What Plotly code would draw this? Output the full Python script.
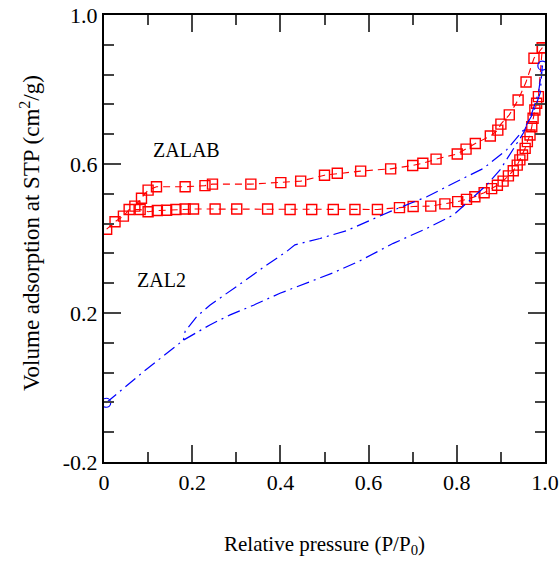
import plotly.graph_objects as go

# ZALAB (red squares)
zalab_ads_x = [0.006, 0.025, 0.044, 0.057, 0.082, 0.100, 0.121, 0.142, 0.163, 0.184, 0.203, 0.252, 0.301,
               0.371, 0.422, 0.471, 0.520, 0.569, 0.620, 0.670, 0.701, 0.741, 0.773, 0.802, 0.822, 0.841,
               0.862, 0.879, 0.892, 0.905, 0.917, 0.928, 0.937, 0.943, 0.949, 0.955, 0.960, 0.966, 0.970,
               0.973, 0.977, 0.981, 0.985, 0.994]
zalab_ads_y = [0.425, 0.445, 0.460, 0.478, 0.478, 0.472, 0.475, 0.476, 0.478, 0.479, 0.479, 0.479, 0.479,
               0.479, 0.478, 0.478, 0.478, 0.478, 0.478, 0.483, 0.486, 0.487, 0.493, 0.499, 0.505, 0.512,
               0.523, 0.534, 0.543, 0.554, 0.568, 0.582, 0.597, 0.611, 0.624, 0.642, 0.660, 0.678, 0.700,
               0.723, 0.745, 0.763, 0.781, 0.912]
zalab_des_x = [0.994, 0.975, 0.957, 0.939, 0.919, 0.900, 0.893, 0.876, 0.842, 0.821, 0.801, 0.753, 0.723,
               0.700, 0.650, 0.582, 0.529, 0.500, 0.446, 0.401, 0.333, 0.246, 0.229, 0.184, 0.119, 0.100,
               0.085, 0.070]
zalab_des_y = [0.912, 0.884, 0.820, 0.772, 0.732, 0.707, 0.691, 0.675, 0.655, 0.640, 0.627, 0.613, 0.602,
               0.596, 0.587, 0.581, 0.575, 0.570, 0.554, 0.550, 0.546, 0.546, 0.542, 0.539, 0.539, 0.530,
               0.508, 0.487]

# ZAL2 (blue)
zal2_ads_x = [0.005, 0.09, 0.180, 0.240, 0.286, 0.339, 0.399, 0.460, 0.520, 0.580, 0.656, 0.732, 0.792,
              0.830, 0.868, 0.898, 0.928, 0.951, 0.970, 0.985, 0.994]
zal2_ads_y = [-0.041, 0.043, 0.127, 0.168, 0.195, 0.221, 0.253, 0.280, 0.308, 0.340, 0.387, 0.427, 0.463,
              0.503, 0.544, 0.584, 0.638, 0.683, 0.736, 0.790, 0.864]
zal2_des_x = [0.994, 0.989, 0.973, 0.951, 0.913, 0.860, 0.807, 0.732, 0.656, 0.596, 0.550, 0.490, 0.433,
              0.414, 0.369, 0.316, 0.274, 0.240, 0.210, 0.184, 0.180]
zal2_des_y = [0.864, 0.790, 0.736, 0.691, 0.638, 0.588, 0.557, 0.512, 0.476, 0.445, 0.421, 0.400, 0.383,
              0.365, 0.329, 0.284, 0.248, 0.221, 0.190, 0.151, 0.127]
zal2_end_x = [0.005, 0.994]
zal2_end_y = [-0.041, 0.864]

x_tickvals = [0, 0.2, 0.4, 0.6, 0.8, 1.0]
x_ticktext = ["0", "0.2", "0.4", "0.6", "0.8", "1.0"]
y_tickvals = [-0.2, 0.2, 0.6, 1.0]
y_ticktext = ["-0.2", "0.2", "0.6", "1.0"]

RED = "#ff0000"
BLUE = "#0000ff"
FONT = "Liberation Serif"

fig = go.Figure()
red_marker = dict(symbol="square-open", size=10, color=RED, line=dict(width=1.4, color=RED))
red_line = dict(color=RED, width=1.1, dash="7px,5px")
fig.add_trace(go.Scatter(x=zalab_ads_x, y=zalab_ads_y, mode="lines+markers",
                         line=red_line, marker=red_marker, showlegend=False))
fig.add_trace(go.Scatter(x=zalab_des_x, y=zalab_des_y, mode="lines+markers",
                         line=red_line, marker=red_marker, showlegend=False))
blue_line = dict(color=BLUE, width=1.2, dash="13px,5px,2px,5px")
fig.add_trace(go.Scatter(x=zal2_ads_x, y=zal2_ads_y, mode="lines", line=blue_line, showlegend=False))
fig.add_trace(go.Scatter(x=zal2_des_x, y=zal2_des_y, mode="lines", line=blue_line, showlegend=False))
fig.add_trace(go.Scatter(x=zal2_end_x, y=zal2_end_y, mode="markers",
                         marker=dict(symbol="circle-open", size=9, color=BLUE, line=dict(width=1.2, color=BLUE)),
                         showlegend=False))

fig.add_annotation(x=0.188, y=0.638, text="ZALAB", showarrow=False,
                   font=dict(family=FONT, size=20, color="black"))
fig.add_annotation(x=0.131, y=0.289, text="ZAL2", showarrow=False,
                   font=dict(family=FONT, size=20, color="black"))

# axis titles
fig.add_annotation(xref="paper", yref="paper", x=0.5, y=-0.186, yanchor="middle",
                   text="Relative pressure (P/P<sub>0</sub>)", showarrow=False,
                   font=dict(family=FONT, size=21, color="black"))
fig.add_annotation(xref="paper", yref="paper", x=-0.168, y=0.512, xanchor="center", yanchor="middle",
                   text="Volume adsorption at STP (cm<sup>2</sup>/g)", showarrow=False, textangle=-90,
                   font=dict(family=FONT, size=23, color="black"))

axis_common = dict(showline=True, linecolor="black", linewidth=2, mirror="ticks",
                   ticks="inside", ticklen=17, tickwidth=1.5, tickcolor="#444",
                   showgrid=False, zeroline=False, automargin=False,
                   tickfont=dict(family=FONT, size=22, color="black"))

fig.update_xaxes(range=[0, 1.0], tickvals=x_tickvals, ticktext=x_ticktext,
                 minor=dict(ticks="inside", ticklen=10, dtick=0.1, tick0=0, tickwidth=1.5, tickcolor="#444"),
                 **axis_common)
fig.update_yaxes(range=[-0.2, 1.0], tickvals=y_tickvals, ticktext=y_ticktext,
                 minor=dict(ticks="inside", ticklen=10, dtick=0.08, tick0=-0.2, tickwidth=1.5, tickcolor="#444"),
                 **axis_common)

fig.update_layout(width=560, height=565, margin=dict(l=104, r=15, t=15, b=103),
                  paper_bgcolor="white", plot_bgcolor="white")

fig.write_html("out.html")
